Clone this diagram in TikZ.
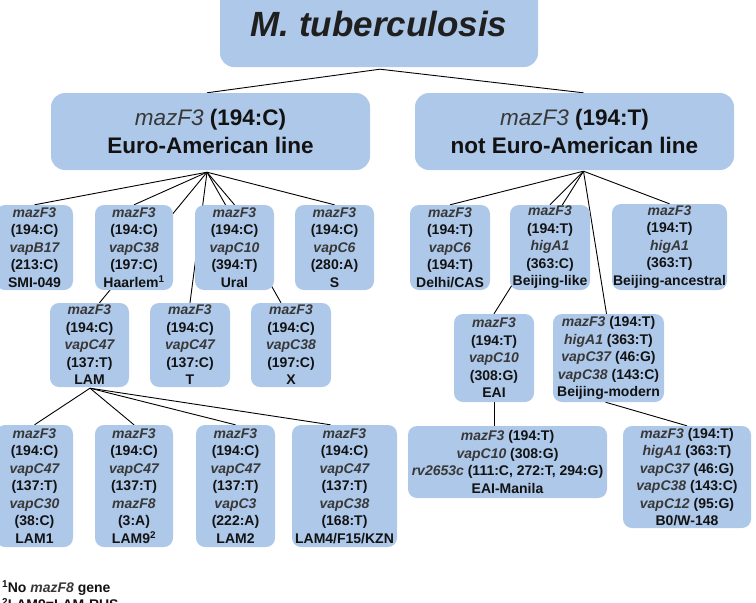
\documentclass[tikz,border=0pt]{standalone}
\usepackage{fontspec}
\setmainfont{Liberation Sans}
\usetikzlibrary{calc}
\pgfdeclarelayer{bg}
\pgfsetlayers{bg,main}
\definecolor{boxblue}{HTML}{AEC8E9}
\definecolor{genecol}{HTML}{383838}
\definecolor{txt}{HTML}{121212}
\newcommand{\gene}[1]{{\itshape\color{genecol}#1}}
\newcommand{\genelight}[1]{{\mdseries\itshape\color{genecol}#1}}
\newcommand{\supnum}[1]{\raisebox{4.5pt}{\fontsize{10}{10}\selectfont #1}}
\tikzset{
  box/.style={fill=boxblue, rounded corners=9pt, inner sep=0pt, align=center, text=txt,
    font=\bfseries\fontsize{14}{17.5}\selectfont},
  bigbox/.style={box, rounded corners=14pt, font=\bfseries\fontsize{22.5}{28}\selectfont},
  conn/.style={draw=black, line width=0.9pt},
  note/.style={anchor=base west, inner sep=0pt, text=txt, font=\bfseries\fontsize{14}{17.5}\selectfont}
}
\begin{document}
\begin{tikzpicture}[x=1pt,y=-1pt]
\useasboundingbox (0,0) rectangle (756,603);
% title and main lines
\node[bigbox, rounded corners=14pt, minimum width=318pt, minimum height=86pt,
  font=\bfseries\itshape\fontsize{35}{40}\selectfont, text=black!88] (title) at (379,24) {M. tuberculosis};
\node[bigbox, minimum width=319pt, minimum height=77pt] (eur) at (210.5,131.5)
  {\genelight{mazF3} (194:C)\\Euro-American line};
\node[bigbox, minimum width=319pt, minimum height=77pt] (neur) at (574.5,131.5)
  {\genelight{mazF3} (194:T)\\not Euro-American line};
% left row 1
\node[box, minimum width=77pt, minimum height=85pt] (smi) at (34.5,247.5)
  {\gene{mazF3}\\(194:C)\\\gene{vapB17}\\(213:C)\\SMI-049};
\node[box, minimum width=78pt, minimum height=85pt] (haar) at (134,247.5)
  {\gene{mazF3}\\(194:C)\\\gene{vapC38}\\(197:C)\\Haarlem\textsuperscript{1}};
\node[box, minimum width=79pt, minimum height=85pt] (ural) at (234.5,247.5)
  {\gene{mazF3}\\(194:C)\\\gene{vapC10}\\(394:T)\\Ural};
\node[box, minimum width=79pt, minimum height=85pt] (sb) at (334.5,247.5)
  {\gene{mazF3}\\(194:C)\\\gene{vapC6}\\(280:A)\\S};
% left row 2
\node[box, minimum width=79pt, minimum height=84pt] (lam) at (89.5,345)
  {\gene{mazF3}\\(194:C)\\\gene{vapC47}\\(137:T)\\LAM};
\node[box, minimum width=80pt, minimum height=84pt] (tb) at (190,345)
  {\gene{mazF3}\\(194:C)\\\gene{vapC47}\\(137:C)\\T};
\node[box, minimum width=80pt, minimum height=84pt] (xb) at (291,345)
  {\gene{mazF3}\\(194:C)\\\gene{vapC38}\\(197:C)\\X};
% left row 3
\node[box, minimum width=77pt, minimum height=122pt] (lam1) at (34.5,486)
  {\gene{mazF3}\\(194:C)\\\gene{vapC47}\\(137:T)\\\gene{vapC30}\\(38:C)\\LAM1};
\node[box, minimum width=78pt, minimum height=122pt] (lam9) at (134,486)
  {\gene{mazF3}\\(194:C)\\\gene{vapC47}\\(137:T)\\\gene{mazF8}\\(3:A)\\LAM9\textsuperscript{2}};
\node[box, minimum width=79pt, minimum height=122pt] (lam2) at (235.5,486)
  {\gene{mazF3}\\(194:C)\\\gene{vapC47}\\(137:T)\\\gene{vapC3}\\(222:A)\\LAM2};
\node[box, minimum width=105pt, minimum height=122pt] (lam4) at (344.5,486)
  {\gene{mazF3}\\(194:C)\\\gene{vapC47}\\(137:T)\\\gene{vapC38}\\(168:T)\\LAM4/F15/KZN};
% right row 1
\node[box, minimum width=80pt, minimum height=85pt] (delhi) at (450,247.5)
  {\gene{mazF3}\\(194:T)\\\gene{vapC6}\\(194:T)\\Delhi/CAS};
\node[box, minimum width=80pt, minimum height=85pt] (bl) at (550,247.5)
  {\gene{mazF3}\\(194:T)\\\gene{higA1}\\(363:C)\\Beijing-like};
\node[box, minimum width=115pt, minimum height=86pt] (ba) at (669.5,247)
  {\gene{mazF3}\\(194:T)\\\gene{higA1}\\(363:T)\\Beijing-ancestral};
% right row 2
\node[box, minimum width=80pt, minimum height=88pt] (eai) at (494,358)
  {\gene{mazF3}\\(194:T)\\\gene{vapC10}\\(308:G)\\EAI};
\node[box, minimum width=111pt, minimum height=88pt] (bm) at (608.5,358)
  {\gene{mazF3} (194:T)\\\gene{higA1} (363:T)\\\gene{vapC37} (46:G)\\\gene{vapC38} (143:C)\\Beijing-modern};
% right row 3
\node[box, minimum width=199pt, minimum height=72pt] (man) at (507.5,462)
  {\gene{mazF3} (194:T)\\\gene{vapC10} (308:G)\\\gene{rv2653c} (111:C, 272:T, 294:G)\\EAI-Manila};
\node[box, minimum width=128pt, minimum height=102pt] (b0) at (687,477)
  {\gene{mazF3} (194:T)\\\gene{higA1} (363:T)\\\gene{vapC37} (46:G)\\\gene{vapC38} (143:C)\\\gene{vapC12} (95:G)\\B0/W-148};
% footnotes
\node[note] (fn1) at (2,592) {\supnum{1}No \gene{mazF8} gene};
\node[note] (fn2) at (2,609.5) {\supnum{2}LAM9=LAM-RUS};
% connectors
\coordinate (ta) at ($(title.south)+(1,2)$);
\coordinate (fl) at ($(eur.south)+(-3.5,2)$);
\coordinate (fr) at ($(neur.south)+(9,1)$);
\coordinate (fa) at ($(lam.south)+(0.5,1)$);
\begin{pgfonlayer}{bg}
\draw[conn] (fl |- eur.north) -- (ta) -- (fr |- neur.north);
\foreach \tgt in {smi.north, haar.north, tb.north, ural.north, sb.north}
  \draw[conn] (fl) -- (\tgt);
\draw[conn] (fl) -- ($(lam.north)+(10,0)$);
\draw[conn] (fl) -- ($(xb.north)+(-10,0)$);
\foreach \tgt in {delhi.north, bl.north, eai.north, ba.north}
  \draw[conn] (fr) -- (\tgt);
\draw[conn] (fr) -- ($(bm.north)+(-2,0)$);
\foreach \tgt in {lam1.north, lam9.north, lam2.north}
  \draw[conn] (fa) -- (\tgt);
\draw[conn] (fa) -- ($(lam4.north)+(-14,0)$);
\draw[conn] (eai.south) -- (eai.south |- man.north);
\draw[conn] ($(bm.south)+(-3,0)$) -- (b0.north);
\end{pgfonlayer}
\end{tikzpicture}
\end{document}
